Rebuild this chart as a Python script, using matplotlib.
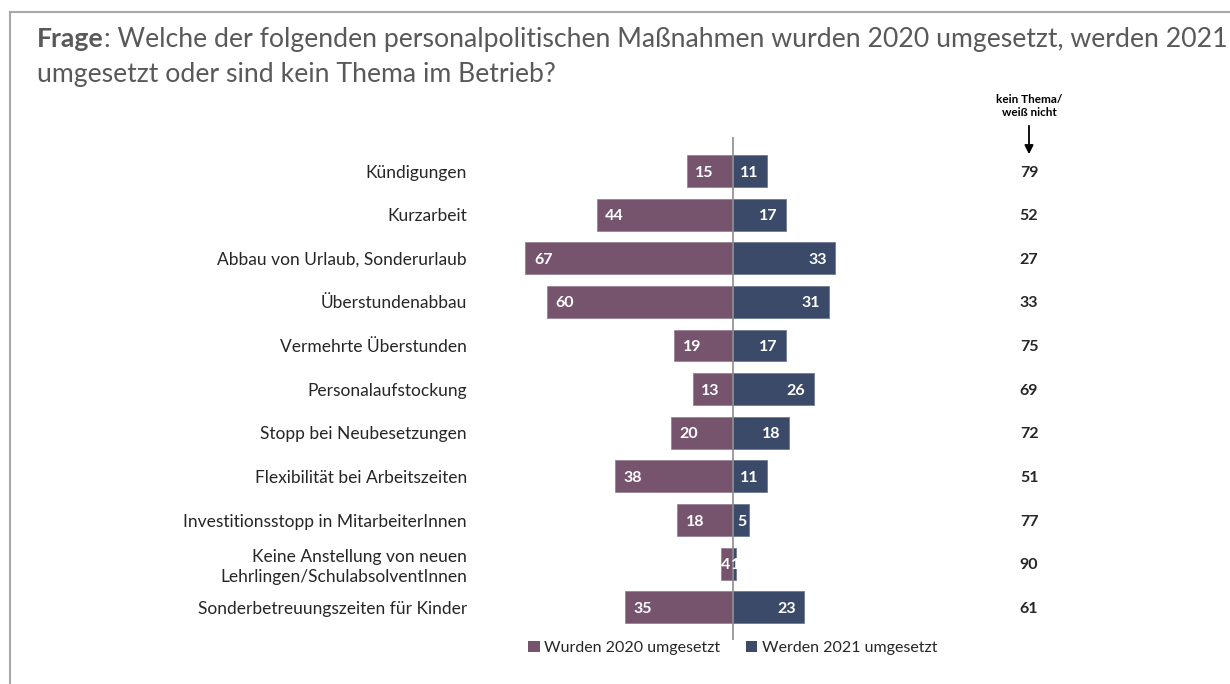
import matplotlib
matplotlib.use('Agg')
from matplotlib import pyplot as plt
from matplotlib.patches import Patch
from matplotlib.lines import Line2D

plt.rcParams['font.family'] = ['Lato', 'DejaVu Sans']

categories = ['Kündigungen', 'Kurzarbeit', 'Abbau von Urlaub, Sonderurlaub',
              'Überstundenabbau', 'Vermehrte Überstunden', 'Personalaufstockung',
              'Stopp bei Neubesetzungen', 'Flexibilität bei Arbeitszeiten',
              'Investitionsstopp in MitarbeiterInnen',
              'Keine Anstellung von neuen\nLehrlingen/SchulabsolventInnen',
              'Sonderbetreuungszeiten für Kinder']
done_2020 = [15, 44, 67, 60, 19, 13, 20, 38, 18, 4, 35]
plan_2021 = [11, 17, 33, 31, 17, 26, 18, 11, 5, 1, 23]
kein_thema = [79, 52, 27, 33, 75, 69, 72, 51, 77, 90, 61]

c_2020 = '#76546e'
c_2021 = '#3c4a69'
txt = '#262626'

fig = plt.figure(figsize=(12.3, 6.84), dpi=100)
ax = fig.add_axes([0.3943, 0.0643, 0.4033, 0.7354])

y = list(range(len(categories)))
ax.barh(y, [-v for v in done_2020], height=0.73, color=c_2020, edgecolor='#9a8296', linewidth=0.6)
ax.barh(y, plan_2021, height=0.73, color=c_2021, edgecolor='#6f7b94', linewidth=0.6)

for i in y:
    a, b = done_2020[i], plan_2021[i]
    if a >= 6:
        ax.text(-a + 2.8, i, str(a), ha='left', va='center_baseline', color='white',
                fontsize=11.5, fontweight='bold')
    else:
        ax.text(-a / 2 - 0.3, i, str(a), ha='center', va='center_baseline', color='white',
                fontsize=11.5, fontweight='bold')
    if b >= 6:
        ax.text(b - 2.8, i, str(b), ha='right', va='center_baseline', color='white',
                fontsize=11.5, fontweight='bold')
    else:
        ax.text(b / 2 + 0.3, i, str(b), ha='center', va='center_baseline', color='white',
                fontsize=11.5, fontweight='bold')
    ax.text(95.5, i, str(kein_thema[i]), ha='center', va='center_baseline', color=txt,
            fontsize=11.5, fontweight='bold', clip_on=False)

ax.axvline(0, color='#8c8c8c', lw=1.2)
ax.set_xlim(-80, 80)
ax.set_ylim(10.75, -0.78)
ax.set_yticks(y)
ax.set_yticklabels(categories, fontsize=12.5, color=txt, linespacing=1.3)
ax.tick_params(axis='y', length=0, pad=13)
ax.set_xticks([])
for s in ax.spines.values():
    s.set_visible(False)

# header of right column
fig.text(1029 / 1230, 1 - 106 / 684, 'kein Thema/\nweiß nicht', ha='center', va='center',
         fontsize=8.5, fontweight='bold', color='black', linespacing=1.15)
ax.annotate('', xy=(1029, 684 - 157), xytext=(1029, 684 - 123),
            xycoords='figure pixels', textcoords='figure pixels',
            arrowprops=dict(arrowstyle='-|>', color='black', lw=1.3, mutation_scale=13))

# legend
handles = [Patch(facecolor=c_2020, label='Wurden 2020 umgesetzt'),
           Patch(facecolor=c_2021, label='Werden 2021 umgesetzt')]
fig.legend(handles=handles, loc='center', bbox_to_anchor=(733 / 1230, 1 - 648 / 684),
           ncol=2, frameon=False, fontsize=11.5, handlelength=0.7, handleheight=0.7,
           handletextpad=0.3, columnspacing=1.6, labelcolor=txt)

# frame
fig.add_artist(Line2D([10 / 1230, 10 / 1230], [0, 1 - 12 / 684], color='#a8a8a8', lw=1.5))
fig.add_artist(Line2D([10 / 1230, 1], [1 - 12 / 684, 1 - 12 / 684], color='#a8a8a8', lw=1.5))

# title with bold "Frage"
title_c = '#595959'
t1 = fig.text(37 / 1230, 1 - 47 / 684, 'Frage', fontsize=19.2, fontweight='bold',
              color=title_c, va='baseline')
fig.canvas.draw()
bb = t1.get_window_extent()
fig.text(bb.x1 / 1230, 1 - 47 / 684,
         ': Welche der folgenden personalpolitischen Maßnahmen wurden 2020 umgesetzt, werden 2021',
         fontsize=19.2, color=title_c, va='baseline')
fig.text(37 / 1230, 1 - 82 / 684, 'umgesetzt oder sind kein Thema im Betrieb?',
         fontsize=19.2, color=title_c, va='baseline')

fig.savefig('out.png', dpi=100)
